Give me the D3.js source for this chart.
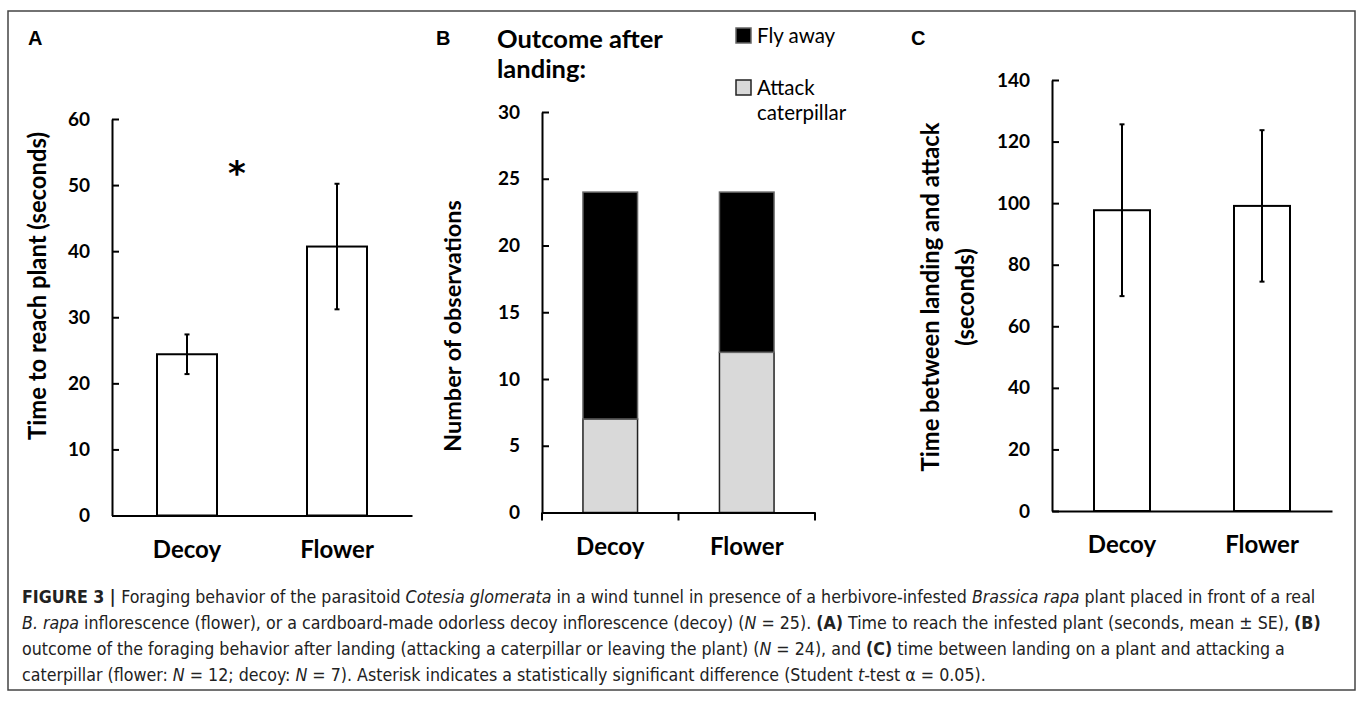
<!DOCTYPE html>
<html>
<head>
<meta charset="utf-8">
<script src="https://cdn.jsdelivr.net/npm/d3@7"></script>
<style>
  body { margin: 0; background: #fff; }
  svg text { font-family: Lato, "Open Sans", sans-serif; fill: #000; }
</style>
</head>
<body>
<svg id="fig" width="1358" height="701"></svg>
<script>
// ---- data ----
var categories = ["Decoy", "Flower"];

// A: time to reach plant (s), mean +- SE
var reachMean = [24.4, 40.7];
var reachSE = [3.0, 9.5];
var reachTicks = [0, 10, 20, 30, 40, 50, 60];

// B: outcome after landing (counts)
var attackCounts = [7, 12];
var flyAwayCounts = [17, 12];
var outcomeKeys = ["attack", "flyAway"];
var obsTicks = [0, 5, 10, 15, 20, 25, 30];

// C: time between landing and attack (s), mean +- SE
var attackTimeMean = [97.7, 99.1];
var attackTimeSE = [27.9, 24.6];
var attackTimeTicks = [0, 20, 40, 60, 80, 100, 120, 140];

var svg = d3.select("#fig");

// frame round the whole figure
svg.append("rect")
    .attr("x", 8).attr("y", 11)
    .attr("width", 1347).attr("height", 679)
    .attr("fill", "none")
    .attr("stroke", "#444")
    .attr("stroke-width", 1.5);

function styleAxis(g) {
    g.select(".domain").attr("stroke", "#000").attr("stroke-width", 2);
    g.selectAll(".tick line").attr("stroke", "#000").attr("stroke-width", 2);
    g.selectAll(".tick text")
        .attr("fill", "#000")
        .style("font-family", "Lato, sans-serif")
        .style("font-weight", "bold");
}

function drawYAxis(y, ticks, xPos) {
    var g = svg.append("g")
        .attr("transform", "translate(" + xPos + ",0)")
        .call(d3.axisLeft(y).tickValues(ticks).tickSize(-7).tickSizeOuter(0)
            .tickPadding(22).tickFormat(d3.format("d")));
    styleAxis(g);
    g.selectAll(".tick text").style("font-size", "19px");
    return g;
}

function drawXAxis(x, yPos) {
    var g = svg.append("g")
        .attr("transform", "translate(0," + yPos + ")")
        .call(d3.axisBottom(x).tickSize(0).tickSizeOuter(0).tickPadding(25));
    styleAxis(g);
    g.selectAll(".tick text").style("font-size", "24px");
    return g;
}

// rotated y label, sized to the length seen in the figure
function yLabel(lines, xBase, yMid, width, gap) {
    var texts = lines.map(function (t, i) {
        return svg.append("text")
            .attr("transform", "translate(" + (xBase + i * gap) + "," + yMid + ") rotate(-90)")
            .attr("text-anchor", "middle")
            .style("font-weight", "bold")
            .style("font-size", "22px")
            .text(t);
    });
    var fs = 22 * width / texts[0].node().getComputedTextLength();
    texts.forEach(function (t) { t.style("font-size", fs + "px"); });
}

function barPanel(x, y, means, ses) {
    var g = svg.append("g");
    g.selectAll("rect")
        .data(categories)
        .enter().append("rect")
        .attr("x", function (d) { return x(d); })
        .attr("y", function (d, i) { return y(means[i]); })
        .attr("width", x.bandwidth())
        .attr("height", function (d, i) { return y(0) - y(means[i]); })
        .attr("fill", "#fff")
        .attr("stroke", "#000")
        .attr("stroke-width", 2);

    var err = g.selectAll(".err")
        .data(categories)
        .enter().append("g")
        .attr("class", "err");
    var cx = function (d) { return x(d) + x.bandwidth() / 2; };
    err.append("line")
        .attr("x1", cx).attr("x2", cx)
        .attr("y1", function (d, i) { return y(means[i] - ses[i]); })
        .attr("y2", function (d, i) { return y(means[i] + ses[i]); });
    err.append("line")
        .attr("x1", function (d) { return cx(d) - 2.5; })
        .attr("x2", function (d) { return cx(d) + 2.5; })
        .attr("y1", function (d, i) { return y(means[i] + ses[i]); })
        .attr("y2", function (d, i) { return y(means[i] + ses[i]); });
    err.append("line")
        .attr("x1", function (d) { return cx(d) - 2.5; })
        .attr("x2", function (d) { return cx(d) + 2.5; })
        .attr("y1", function (d, i) { return y(means[i] - ses[i]); })
        .attr("y2", function (d, i) { return y(means[i] - ses[i]); });
    err.selectAll("line").attr("stroke", "#000").attr("stroke-width", 2);
}

function panelLetter(t, x) {
    svg.append("text")
        .attr("x", x).attr("y", 45)
        .style("font-family", "'Liberation Sans', Arial, sans-serif")
        .style("font-weight", "bold")
        .style("font-size", "20px")
        .text(t);
}

// ---- panel A ----
var xA = d3.scaleBand().domain(categories).range([112, 412]).paddingInner(0.6).paddingOuter(0.3);
var yA = d3.scaleLinear().domain([0, 60]).range([515.5, 119]);

barPanel(xA, yA, reachMean, reachSE);
drawYAxis(yA, reachTicks, 112);
drawXAxis(xA, yA(0));
yLabel(["Time to reach plant (seconds)"], 46, 286, 308, 0);
panelLetter("A", 28);

// significance star
svg.append("text")
    .attr("x", (xA("Decoy") + xA("Flower") + xA.bandwidth()) / 2 - 25)
    .attr("y", 185)
    .attr("text-anchor", "middle")
    .style("font-family", "'DejaVu Sans', sans-serif")
    .style("font-weight", "bold")
    .style("font-size", "34px")
    .text("*");

// ---- panel B ----
var xB = d3.scaleBand().domain(categories).range([542, 815]).paddingInner(0.6).paddingOuter(0.3);
var yB = d3.scaleLinear().domain([0, 30]).range([512.5, 112]);

var outcomeTable = categories.map(function (c, i) {
    return { cat: c, attack: attackCounts[i], flyAway: flyAwayCounts[i] };
});
var stacked = d3.stack().keys(outcomeKeys)(outcomeTable);
var outcomeFill = d3.scaleOrdinal().domain(outcomeKeys).range(["#d9d9d9", "#000"]);
var outcomeStroke = d3.scaleOrdinal().domain(outcomeKeys).range(["#222", "#666"]);

svg.append("g").selectAll("g")
    .data(stacked)
    .enter().append("g")
    .attr("fill", function (d) { return outcomeFill(d.key); })
    .attr("stroke", function (d) { return outcomeStroke(d.key); })
    .attr("stroke-width", 1.5)
    .selectAll("rect")
    .data(function (d) { return d; })
    .enter().append("rect")
    .attr("x", function (d) { return xB(d.data.cat); })
    .attr("y", function (d) { return yB(d[1]); })
    .attr("width", xB.bandwidth())
    .attr("height", function (d) { return yB(d[0]) - yB(d[1]); });

drawYAxis(yB, obsTicks, 542);
drawXAxis(xB, yB(0));
// category boundary ticks under the B axis
var edges = [xB.range()[0],
    (xB("Decoy") + xB("Flower") + xB.bandwidth()) / 2,
    xB.range()[1]];
svg.append("g").selectAll("line")
    .data(edges)
    .enter().append("line")
    .attr("x1", function (d) { return d; })
    .attr("x2", function (d) { return d; })
    .attr("y1", yB(0))
    .attr("y2", yB(0) + 8)
    .attr("stroke", "#000")
    .attr("stroke-width", 2);

yLabel(["Number of observations"], 461, 326, 252, 0);
panelLetter("B", 436);

svg.append("text").attr("x", 497).attr("y", 48)
    .style("font-weight", "bold").style("font-size", "25.5px").text("Outcome after");
svg.append("text").attr("x", 497).attr("y", 78)
    .style("font-weight", "bold").style("font-size", "25.5px").text("landing:");

// legend
var legendItems = [
    { key: "flyAway", lines: ["Fly away"], y: 28 },
    { key: "attack", lines: ["Attack", "caterpillar"], y: 80 }
];
var leg = svg.append("g").selectAll("g")
    .data(legendItems)
    .enter().append("g")
    .attr("transform", function (d) { return "translate(736," + d.y + ")"; });
leg.append("rect")
    .attr("width", 15).attr("height", 15)
    .attr("fill", function (d) { return outcomeFill(d.key); })
    .attr("stroke", function (d) { return outcomeStroke(d.key); })
    .attr("stroke-width", 1.5);
leg.append("text")
    .attr("x", 21)
    .attr("y", 15)
    .style("font-size", "20.5px")
    .selectAll("tspan")
    .data(function (d) { return d.lines; })
    .enter().append("tspan")
    .attr("x", 21)
    .attr("dy", function (d, i) { return i ? 25 : 0; })
    .text(function (d) { return d; });

// ---- panel C ----
var xC = d3.scaleBand().domain(categories).range([1052, 1332]).paddingInner(0.6).paddingOuter(0.3);
var yC = d3.scaleLinear().domain([0, 140]).range([511, 80]);

barPanel(xC, yC, attackTimeMean, attackTimeSE);
drawYAxis(yC, attackTimeTicks, 1052);
drawXAxis(xC, yC(0));
yLabel(["Time between landing and attack", "(seconds)"], 939, 297, 349, 35);
panelLetter("C", 911);

// ---- caption ----
var captionLines = [
    [["b", "FIGURE 3 | "], ["", "Foraging behavior of the parasitoid "], ["i", "Cotesia glomerata"],
     ["", " in a wind tunnel in presence of a herbivore-infested "], ["i", "Brassica rapa"],
     ["", " plant placed in front of a real"]],
    [["i", "B. rapa"], ["", " inflorescence (flower), or a cardboard-made odorless decoy inflorescence (decoy) ("],
     ["i", "N"], ["", " = 25). "], ["b", "(A)"], ["", " Time to reach the infested plant (seconds, mean \u00b1 SE), "],
     ["b", "(B)"]],
    [["", "outcome of the foraging behavior after landing (attacking a caterpillar or leaving the plant) ("],
     ["i", "N"], ["", " = 24), and "], ["b", "(C)"], ["", " time between landing on a plant and attacking a"]],
    [["", "caterpillar (flower: "], ["i", "N"], ["", " = 12; decoy: "], ["i", "N"],
     ["", " = 7). Asterisk indicates a statistically significant difference (Student "], ["i", "t"],
     ["", "-test \u03b1 = 0.05)."]]
];

var capFont = "'Liberation Sans Narrow', 'DejaVu Sans Condensed', 'Liberation Sans', sans-serif";
var capText = svg.append("g").selectAll("text")
    .data(captionLines)
    .enter().append("text")
    .attr("x", 22)
    .attr("y", function (d, i) { return 603 + i * 26; })
    .style("font-family", capFont)
    .style("font-size", "17px")
    .style("fill", "#222");

capText.selectAll("tspan")
    .data(function (d) { return d; })
    .enter().append("tspan")
    .style("font-weight", function (d) { return d[0] === "b" ? "bold" : "normal"; })
    .style("font-style", function (d) { return d[0] === "i" ? "italic" : "normal"; })
    .text(function (d) { return d[1]; });

// scale caption so the first line spans the same width as in the figure
var firstLen = capText.node().getComputedTextLength();
capText.style("font-size", (17 * 1294 / firstLen) + "px");
</script>
</body>
</html>
